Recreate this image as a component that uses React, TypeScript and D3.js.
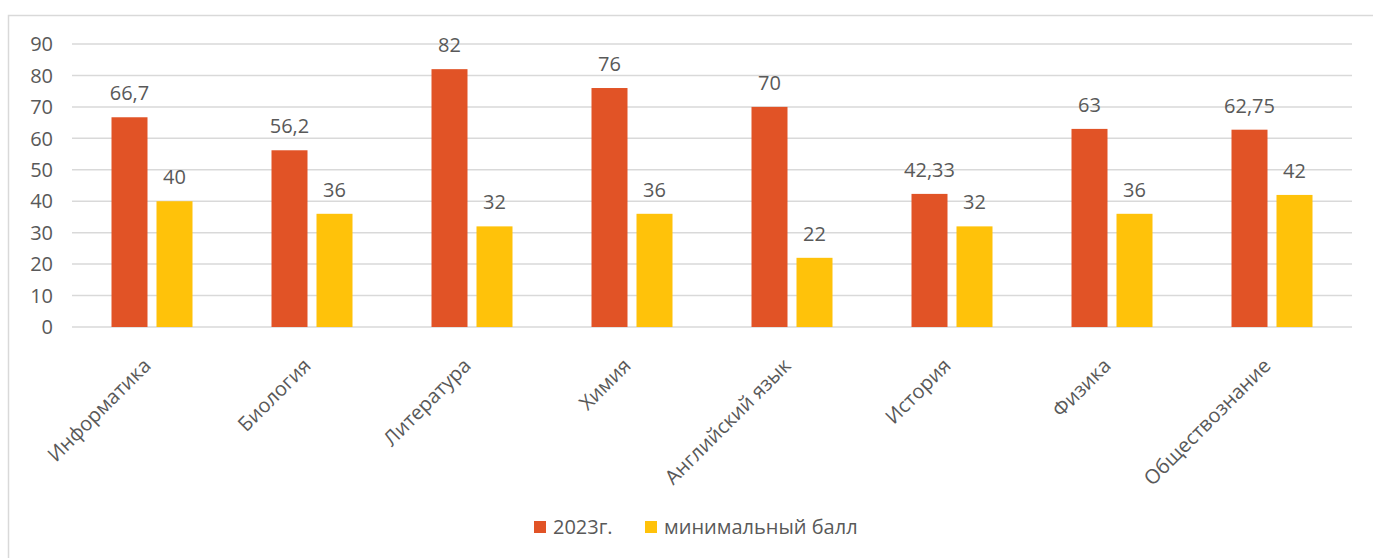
import React, { useEffect, useRef } from 'react';
import * as d3 from 'd3';

const subjects = ['Информатика', 'Биология', 'Литература', 'Химия', 'Английский язык', 'История', 'Физика', 'Обществознание'];
const scores2023 = [66.7, 56.2, 82, 76, 70, 42.33, 63, 62.75];
const minScores = [40, 36, 32, 36, 22, 32, 36, 42];
const seriesNames = ['2023г.', 'минимальный балл'];
const yTicks = [0, 10, 20, 30, 40, 50, 60, 70, 80, 90];

const colors = ['#E15326', '#FFC20A'];
const textColor = '#595959';
const font = '"Open Sans", "Noto Sans", sans-serif';

const fmt = (v: number) => String(v).replace('.', ',');

export default function App() {
  const svgRef = useRef<SVGSVGElement>(null);

  useEffect(() => {
    const width = 1373;
    const height = 558;
    const svg = d3.select(svgRef.current);
    svg.selectAll('*').remove();
    svg.attr('width', width).attr('height', height);

    svg.append('rect').attr('width', width).attr('height', height).attr('fill', '#fff');
    // outer chart border (cut off right/bottom)
    svg.append('rect')
      .attr('x', 8.5).attr('y', 15.5)
      .attr('width', width + 10).attr('height', height + 10)
      .attr('fill', 'none').attr('stroke', '#d9d9d9').attr('stroke-width', 1.5);

    const left = 72, right = 1352, top = 44, bottom = 327;

    const x = d3.scaleBand<string>().domain(subjects).range([left, right]);
    const y = d3.scaleLinear().domain([0, 90]).range([bottom, top]);

    const g = svg.append('g');

    // gridlines
    g.selectAll('line.grid')
      .data(yTicks)
      .enter().append('line')
      .attr('x1', left).attr('x2', right)
      .attr('y1', d => y(d)).attr('y2', d => y(d))
      .attr('stroke', '#d9d9d9').attr('stroke-width', 1.5);

    // y tick labels
    g.selectAll('text.ytick')
      .data(yTicks)
      .enter().append('text')
      .attr('x', 53).attr('y', d => y(d))
      .attr('dy', '0.36em')
      .attr('text-anchor', 'end')
      .attr('font-family', font).attr('font-size', 20)
      .attr('fill', textColor)
      .text(d => d);

    const barW = 36, gap = 9;
    const series = [scores2023, minScores];

    series.forEach((vals, si) => {
      const xs = (s: string) => x(s)! + x.bandwidth() / 2 - barW - gap / 2 + si * (barW + gap);
      g.selectAll(`rect.s${si}`)
        .data(subjects)
        .enter().append('rect')
        .attr('x', d => xs(d))
        .attr('y', (_d, i) => y(vals[i]))
        .attr('width', barW)
        .attr('height', (_d, i) => bottom - y(vals[i]))
        .attr('fill', colors[si]);

      g.selectAll(`text.v${si}`)
        .data(subjects)
        .enter().append('text')
        .attr('x', d => xs(d) + barW / 2)
        .attr('y', (_d, i) => y(vals[i]) - 17)
        .attr('text-anchor', 'middle')
        .attr('font-family', font).attr('font-size', 20)
        .attr('fill', textColor)
        .text((_d, i) => fmt(vals[i]));
    });

    // category labels rotated
    g.selectAll('text.cat')
      .data(subjects)
      .enter().append('text')
      .attr('transform', d => `translate(${x(d)! + x.bandwidth() / 2},${bottom + 40}) rotate(-45)`)
      .attr('text-anchor', 'end')
      .attr('font-family', font).attr('font-size', 20)
      .attr('fill', textColor)
      .text(d => d);

    // legend
    const legendItems = [{ x: 534, tx: 553 }, { x: 645, tx: 664 }];
    seriesNames.forEach((name, i) => {
      svg.append('rect')
        .attr('x', legendItems[i].x).attr('y', 521)
        .attr('width', 12).attr('height', 12)
        .attr('fill', colors[i]);
      svg.append('text')
        .attr('x', legendItems[i].tx).attr('y', 527)
        .attr('dy', '0.36em')
        .attr('font-family', font).attr('font-size', 20)
        .attr('fill', textColor)
        .text(name);
    });
  }, []);

  return <svg ref={svgRef} style={{ position: 'absolute', left: 0, top: 0, display: 'block' }} />;
}
